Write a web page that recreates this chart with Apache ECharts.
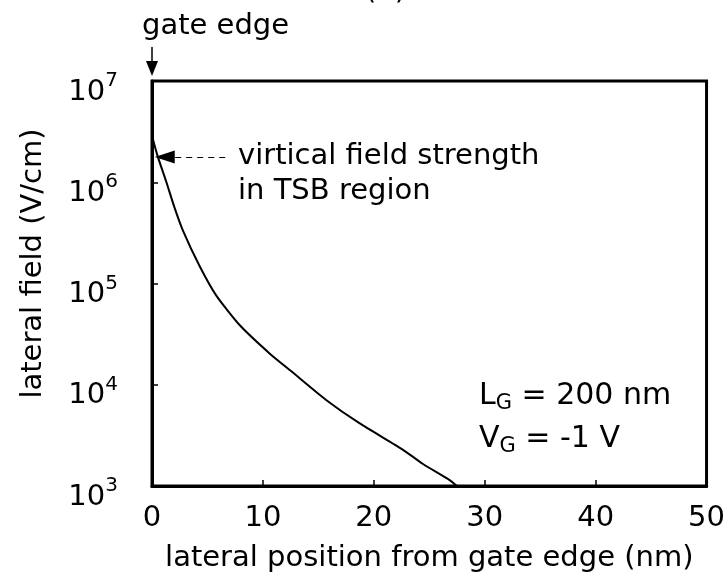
<!DOCTYPE html>
<html>
<head>
<meta charset="utf-8">
<script src="https://cdn.jsdelivr.net/npm/echarts@6/dist/echarts.min.js"></script>
<style>
html,body{margin:0;padding:0;background:#fff;}
#chart{width:728px;height:585px;}
</style>
</head>
<body>
<div id="chart"></div>
<script>
// lateral position from gate edge (nm)
const positionNm = [0, 0.5, 1.3, 2.0, 2.8, 4.3, 5.8, 7.9, 10.6, 12.7, 15.7, 18.7, 22.6, 24.4, 26.8, 27.5];
// lateral field (V/cm)
const lateralField = [2.88e6, 1.82e6, 1.0e6, 5.75e5, 3.31e5, 1.48e5, 7.59e4, 3.89e4, 2.04e4, 1.32e4, 7.08e3, 4.17e3, 2.29e3, 1.66e3, 1.15e3, 1.0e3];
const xTicks = [0, 10, 20, 30, 40, 50];
const yTickExponents = [3, 4, 5, 6, 7];
// annotation arrow (TSB region field strength)
const tsbArrowFrom = [6.6, 1.78e6];
const tsbArrowTo = [1.15, 1.78e6];

const FONT = 'DejaVu Sans';
const FS = 29;
const chart = echarts.init(document.getElementById('chart'), null, {renderer: 'canvas'});

const option = {
  backgroundColor: '#fff',
  animation: false,
  grid: {left: 152, top: 81, right: 21, bottom: 99, show: true, borderColor: '#000', borderWidth: 3, backgroundColor: 'transparent'},
  xAxis: {
    type: 'value', min: xTicks[0], max: xTicks[xTicks.length - 1], interval: 10,
    name: 'lateral position from gate edge (nm)', nameLocation: 'middle', nameGap: 58,
    nameTextStyle: {fontFamily: FONT, fontSize: FS, color: '#000'},
    axisLine: {lineStyle: {color: '#000', width: 3}},
    axisTick: {inside: true, length: 6, lineStyle: {color: '#000', width: 1.5}},
    axisLabel: {fontFamily: FONT, fontSize: FS, color: '#000', margin: 18},
    splitLine: {show: false}
  },
  yAxis: {
    type: 'log', logBase: 10, min: Math.pow(10, yTickExponents[0]), max: Math.pow(10, yTickExponents[yTickExponents.length - 1]),
    name: 'lateral field (V/cm)', nameLocation: 'middle', nameGap: 104,
    nameTextStyle: {fontFamily: FONT, fontSize: FS, color: '#000', padding: [0, 0, 0, 40]},
    axisLine: {lineStyle: {color: '#000', width: 3}},
    axisTick: {inside: true, length: 6, lineStyle: {color: '#000', width: 1.5}},
    minorTick: {show: false},
    splitLine: {show: false},
    axisLabel: {
      margin: 34,
      formatter: function (v) { return '{b|10}{s|' + Math.round(Math.log10(v)) + '}'; },
      rich: {
        b: {fontFamily: FONT, fontSize: FS, color: '#000', padding: [22, 0, 0, 0]},
        s: {fontFamily: FONT, fontSize: 20, color: '#000'}
      }
    }
  },
  series: [{
    type: 'line',
    data: positionNm.map((x, i) => [x, lateralField[i]]),
    showSymbol: false, symbol: 'none',
    smooth: 0.2,
    lineStyle: {color: '#000', width: 2},
    markLine: {
      silent: true,
      symbol: ['none', 'triangle'],
      symbolSize: [13, 20],
      label: {show: false},
      lineStyle: {color: '#000', type: [6, 5], width: 1.2},
      data: [[{coord: tsbArrowFrom}, {coord: tsbArrowTo}]]
    }
  }]
};
chart.setOption(option);

const x0 = chart.convertToPixel({xAxisIndex: 0}, 0);
const yTop = chart.convertToPixel({yAxisIndex: 0}, 1e7);
const textStyle = {fontFamily: FONT, fontSize: FS, fill: '#000'};
chart.setOption({
  graphic: [
    {type: 'text', left: 365, top: -23, style: Object.assign({text: '(b)'}, textStyle)},
    {type: 'text', style: Object.assign({text: 'gate edge', x: x0 - 10, y: 26, verticalAlign: 'middle'}, textStyle)},
    {type: 'line', shape: {x1: x0, y1: yTop - 34, x2: x0, y2: yTop - 18}, style: {stroke: '#000', lineWidth: 1.5}},
    {type: 'polygon', shape: {points: [[x0 - 6, yTop - 20], [x0 + 6, yTop - 20], [x0, yTop - 5]]}, style: {fill: '#000'}},
    {type: 'text', style: Object.assign({text: 'virtical field strength\nin TSB region', x: 238, y: 139, lineHeight: 35}, textStyle)},
    {type: 'text', style: {x: 479, y: 375, text: '{n|L}{sub|G}{n| = 200 nm}\n{n|V}{sub|G}{n| = -1 V}',
      rich: {
        n: {fontFamily: FONT, fontSize: 30, fill: '#000', lineHeight: 43},
        sub: {fontFamily: FONT, fontSize: 21, fill: '#000', padding: [14, 0, 0, 0], lineHeight: 43}
      }}}
  ]
});
</script>
</body>
</html>
